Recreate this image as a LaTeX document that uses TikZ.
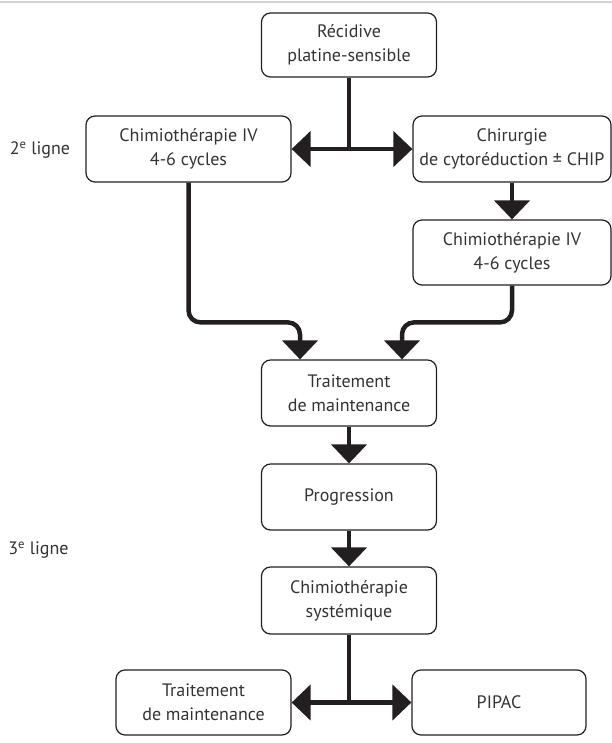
\documentclass[tikz,border=0pt]{standalone}
\usepackage{fontspec}
\setmainfont{PT Sans}
\usepackage{xcolor}
\usetikzlibrary{arrows.meta,calc}
\tikzset{>=latex}
\definecolor{inkgray}{HTML}{333333}
\definecolor{arrowblack}{HTML}{231F20}

\begin{document}
\begin{tikzpicture}[x=1pt,y=-1pt,
		box/.style = {draw=arrowblack, line width=1.2pt, rounded corners=9pt,
			align=center, inner sep=0pt, text=inkgray,
			font=\fontsize{18}{24}\selectfont},
		flow/.style = {draw=arrowblack, line width=4.5pt},
		tip/.style = {-{Triangle[width=35pt,length=19pt]}},
		level/.style = {text=inkgray, font=\fontsize{18}{24}\selectfont},
	]
		\useasboundingbox (0,0) rectangle (612,743);
		\draw[gray!35, line width=2pt] (0,2) -- (612,2);
		% central column
		\node[box, minimum width=175pt, minimum height=64pt] (rec) at (349,45) {Récidive\\platine-sensible};
		\node[box, minimum width=205pt, minimum height=66pt] (chimioA) at (188.5,149) {Chimiothérapie IV\\4-6 cycles};
		\node[box, minimum width=198pt, minimum height=66pt] (chir) at (512,149) {Chirurgie\\de cytoréduction ± CHIP};
		\node[box, minimum width=198pt, minimum height=65pt] (chimioB) at (512,252.5) {Chimiothérapie IV\\4-6 cycles};
		\node[box, minimum width=175pt, minimum height=66pt] (maint) at (349,393) {Traitement\\de maintenance};
		\node[box, minimum width=175pt, minimum height=66pt] (prog) at (349,497) {Progression};
		\node[box, minimum width=175pt, minimum height=67pt] (syst) at (349,600.5) {Chimiothérapie\\systémique};
		\node[box, minimum width=175pt, minimum height=65pt] (maintB) at (203.5,702.5) {Traitement\\de maintenance};
		\node[box, minimum width=174pt, minimum height=65pt] (pipac) at (499,702.5) {PIPAC};
		\node[level] (ligne2) at (40,150) {2\textsuperscript{e} ligne};
		\node[level] (ligne3) at (38.5,550) {3\textsuperscript{e} ligne};

		\coordinate (splitA) at (rec.south |- chimioA.east);
		\coordinate (splitB) at (syst.south |- maintB.east);
		\draw[flow] (rec.south) -- (splitA);
		\draw[flow,tip] (splitA) -- (chimioA.east);
		\draw[flow,tip] (splitA) -- (chir.west);
		\draw[flow,tip] (chir.south) -- (chimioB.north);
		\draw[flow,tip,rounded corners=12pt] (chimioA.south) |- ([xshift=-49pt,yshift=37pt]maint.north) -- ([xshift=-49pt]maint.north);
		\draw[flow,tip,rounded corners=12pt] (chimioB.south) |- ([xshift=53pt,yshift=37pt]maint.north) -- ([xshift=53pt]maint.north);
		\draw[flow,tip] (maint) -- (prog);
		\draw[flow,tip] (prog) -- (syst);
		\draw[flow] (syst.south) -- (splitB);
		\draw[flow,tip] (splitB) -- (maintB.east);
		\draw[flow,tip] (splitB) -- (pipac.west);
	\end{tikzpicture}
\end{document}
